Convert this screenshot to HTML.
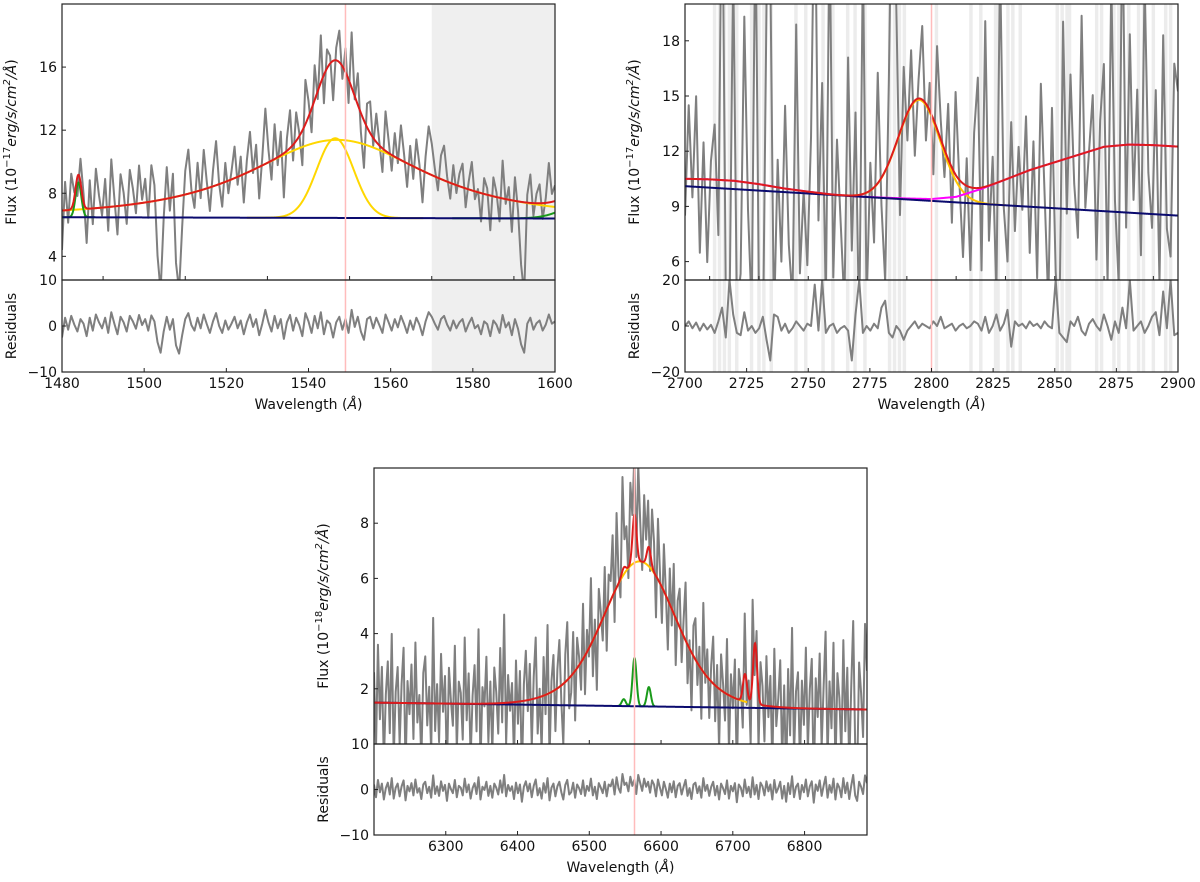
<!DOCTYPE html>
<html><head><meta charset="utf-8">
<style>
html,body{margin:0;padding:0;background:#fff;}
svg{display:block;font-family:"DejaVu Sans","Liberation Sans",sans-serif;}
</style></head>
<body>
<svg id="fig" width="1200" height="882" viewBox="0 0 1200 882" xmlns="http://www.w3.org/2000/svg"></svg>
<script>
// ---------- DATA ----------
// Panel 1 (C IV region)
const p1Range = [1480, 1600];
const p1Resid = [
-2.5,1.8,-0.8,2.2,0.3,-1.2,1.5,0.5,-2.2,1.8,
-1.0,2.5,0.8,-0.5,1.8,-1.5,3.0,0.5,-1.8,2.0,
0.8,-1.2,2.2,1.0,-0.6,2.4,0.2,1.5,-1.0,2.3,
1.0,-3.5,-5.8,-1.2,2.0,-0.8,1.5,-4.2,-6.0,-2.0,
1.5,2.8,0.2,-1.0,1.8,-0.5,2.5,0.4,-1.5,1.0,
2.8,0.0,-1.5,1.2,-0.8,0.5,2.0,-0.5,1.2,-1.8,
0.8,2.5,-0.2,1.5,-2.0,0.5,3.5,0.8,-1.2,2.2,
-0.5,1.5,-2.8,0.8,2.4,-1.0,1.8,0.2,-2.2,2.8,
1.0,-1.5,2.2,-0.5,3.0,-1.8,1.2,0.5,-2.5,0.8,
2.0,-0.8,1.5,-1.5,3.5,-0.2,2.0,-1.2,-3.0,1.5,
2.0,-0.5,1.8,0.2,-1.5,2.5,0.8,-1.0,1.5,-0.3,
2.2,0.5,-1.5,1.2,-0.8,1.8,0.3,-2.0,1.0,3.0,
2.0,0.5,-0.8,1.5,2.2,0.3,-1.0,1.2,-0.5,0.8,
1.5,-1.2,0.5,1.8,-0.5,0.2,-1.8,1.0,0.4,-2.2,
1.2,0.3,-1.5,2.4,-0.3,0.8,-2.0,1.5,-0.6,-4.0,
-5.8,0.5,1.8,-0.8,0.6,1.2,-1.0,0.3,2.5,0.5,
1.0];
const p1Cont = [6.48, 6.40];
const p1Broad = [1547, 4.95, 33];
const p1Narrow = [1546.5, 5.05, 4.5];
const p1Small = [1484, 2.2, 0.7];
const p1Right = [1610, 1.5, 6];
const p1Mask = [1570, 1600];
const p1Ref = 1549;

// Panel 2 (Mg II region)
const p2Range = [2700, 2900];
const p2FluxDev = [
-2,4,-1,4.5,-4,2,-4.5,1,3,-3,
18,-6,-7.5,12,-7,-5,9,-1.5,-7,15,
-7.5,-9,10,12,-7.5,1.5,-4,4.5,-3,-6,
9,-4.5,0,-4,3,18,-1.5,6,-6,15,
-4.5,3,-1.5,-6,7.5,-3,4.5,-7.5,13,-6,
1.5,-3,6,-1.5,-6,4.5,18,7.5,-4.5,3,
-1.5,3,-3,1,4,-2,1.5,-3,4.5,1,
-1.5,3,-3,4.5,0,-4,1.5,-4.5,3,6,
-4.5,9,-3,1.5,-6,12,-1.5,-4.5,3,-3,
1.5,-2,3,-4.5,1.5,-6,4.5,-1.5,-7.5,3,
-6,-9,7.5,-3,4.5,-1.5,-4.5,7.5,-3,0,
3,-6,1.5,4.5,-7.5,9,-3,-7.5,13,-4.5,
6,-3,3,-6,9,-1.5,-4.5,3,-7.5,6,
-4.5,-6,4.5,3];
const p2Resid = [
0,2,-1,1.5,-2,1,-1.5,0.5,-3,2,
8,-5,20,5,-3,-4,6,-2,0,-3,
-1,4,-6,-15,5,4,-2,1,-3,-1,
2,0,-2,1,0,18,-2,20,-3,0,
1,-3,-1,0,-2,-15,5,20,-3,0,
-2,1,-1,8,11,-3,-5,0,-2,-6,
-2,0,2,-1,1,0,-1,2,0,4,
-1,0,1,-2,0,1,-1,0,2,1,
-2,4,-3,0,5,-2,1,7,-9,2,
0,1,-1,2,0,1,-1,2,0,-1,
20,-3,-5,-7,2,0,4,-2,-4,1,
3,0,-2,5,0,-6,2,-3,8,-1,
20,-2,0,2,-3,0,4,6,-4,15,
-1,20,-4,-3];
const p2Cont = [10.1, 8.5];
const p2FeWave = [2700,2710,2720,2730,2740,2750,2760,2770,2780,2790,2800,2810,2820,2830,2840,2850,2860,2870,2880,2890,2900];
const p2FeVals = [0.4,0.45,0.45,0.35,0.2,0.1,0.02,0,0.02,0.05,0.1,0.3,0.8,1.4,2.0,2.5,3.0,3.5,3.7,3.75,3.75];
const p2MgII = [2795, 5.45, 8.5];
const p2Mask = [2712,2714,2716,2718,2721,2727,2730,2732,2735,2745,2749,2756,2760,2766,2769,2773,2783,2785,2787,2789,2802,2816,2820,2826,2827,2831,2833,2836,2851,2853,2855,2856,2867,2869,2874,2876,2880,2884,2886,2890,2895,2897];
const p2Ref = 2800;

// Panel 3 (H-alpha region)
const p3Range = [6200, 6887];
const p3Resid = [
1.1,-1.7,2.1,-0.6,1.3,-2.2,0.3,1.5,-1.1,2.5,
-2.0,0.4,1.3,-1.5,0.7,2.0,-2.4,0.8,-0.4,1.4,
-1.3,2.2,-0.7,0.3,-2.1,1.1,1.7,-0.8,0.6,-1.8,
3.1,-1.0,0.7,-1.4,1.8,-0.3,1.0,-2.5,1.3,0.1,
-0.8,2.1,-1.7,0.8,0.4,-1.3,2.4,-0.6,1.1,-2.0,
0.3,1.4,-1.0,2.7,-2.2,0.6,-0.1,1.7,-1.4,0.8,
-1.8,1.3,0.4,-1.1,2.0,-0.7,3.2,-1.5,1.0,-0.3,
0.7,-2.1,1.5,-0.8,1.1,-2.7,0.6,1.8,-0.4,1.3,
-1.7,0.8,2.2,-1.3,0.3,-2.0,1.4,-0.7,2.5,-2.4,
0.4,1.3,-1.5,0.7,1.7,-0.6,-2.2,1.0,2.1,-1.1,
-0.6,1.5,-1.8,1.1,0.3,-1.0,2.0,-1.4,0.8,-0.3,
2.4,-1.3,0.6,-2.1,1.4,0.4,-0.8,1.7,-1.5,1.1,
0.7,2.2,-1.1,2.7,0.3,-0.7,3.4,1.0,1.5,-0.4,
2.8,0.8,2.1,-1.0,3.2,1.4,-0.3,2.4,0.6,1.7,
-0.7,2.0,1.1,-1.5,2.2,0.4,-1.3,1.7,0.1,-1.8,
1.3,-0.6,1.8,-1.7,0.8,1.4,-1.1,0.6,2.1,-1.4,
0.3,-2.1,1.1,1.5,-0.8,0.7,-1.8,2.5,-0.3,1.0,
-1.4,0.6,1.7,-1.3,0.8,-2.2,1.3,0.3,-1.0,2.0,
-2.0,0.8,-0.4,1.4,-2.8,1.1,0.4,-1.5,2.2,-0.8,
0.6,-1.7,2.7,-1.1,1.0,-2.1,1.5,0.7,-1.3,1.8,
-0.4,1.1,-2.2,2.1,-0.7,0.3,1.7,-2.0,0.8,-2.7,
1.4,-1.0,2.9,-1.7,0.6,1.3,-2.1,1.0,-0.6,2.2,
-1.5,0.7,1.8,-2.9,1.1,-0.3,2.0,-1.4,0.8,2.8,
-1.8,1.0,-0.7,2.4,-2.2,1.3,0.4,-1.7,2.5,-0.8,
1.5,-2.1,0.8,3.2,-1.3,-2.5,1.7,0.6,-1.0,3.1,
1.4];
const p3Cont = [1.5, 1.25];
const p3Broad1 = [6570, 3.6, 45];
const p3Broad2 = [6570, 1.65, 72];
const p3NarrowCenters = [6548, 6563, 6583, 6717, 6731];
const p3NarrowAmps = [0.25, 1.75, 0.7, 1.0, 2.2];
const p3NarrowSigma = 2.8;
const p3Ref = 6563;

// ---------- HELPERS ----------
const NS = "http://www.w3.org/2000/svg";
const svg = document.getElementById('fig');
const FS = 14;
function el(tag, attrs, parent){ const e=document.createElementNS(NS,tag); for(const k in attrs) e.setAttribute(k,attrs[k]); (parent||svg).appendChild(e); return e; }
const gauss=(l,p)=>p[1]*Math.exp(-((l-p[0])**2)/(2*p[2]*p[2]));
const moffat=(l,p)=>p[1]/Math.pow(1+((l-p[0])/p[2])**2,1.5);
const lin=(l,r,c)=>c[0]+(c[1]-c[0])*(l-r[0])/(r[1]-r[0]);
function interp(l,xs,ys){ if(l<=xs[0])return ys[0]; for(let i=1;i<xs.length;i++){ if(l<=xs[i]){const t=(l-xs[i-1])/(xs[i]-xs[i-1]);return ys[i-1]+t*(ys[i]-ys[i-1]);} } return ys[ys.length-1]; }
function grid(r,n){ const a=[]; for(let i=0;i<n;i++) a.push(r[0]+(r[1]-r[0])*i/(n-1)); return a; }
function pathD(xs,ys,sx,sy){ return xs.map((x,i)=>(i?'L':'M')+sx(x).toFixed(2)+','+sy(ys[i]).toFixed(2)).join(''); }

function makeAxes(c){
  c.sx=l=>c.x0+(l-c.xmin)/(c.xmax-c.xmin)*(c.x1-c.x0);
  c.sy=v=>c.yT+(c.ymax-v)/(c.ymax-c.ymin)*(c.yM-c.yT);
  c.sr=v=>c.yM+(c.rmax-v)/(2*c.rmax)*(c.yB-c.yM);
  const defs=el('defs',{});
  el('rect',{x:c.x0,y:c.yT,width:c.x1-c.x0,height:c.yM-c.yT},el('clipPath',{id:c.id+'m'},defs));
  el('rect',{x:c.x0,y:c.yM,width:c.x1-c.x0,height:c.yB-c.yM},el('clipPath',{id:c.id+'r'},defs));
  c.gm=el('g',{'clip-path':'url(#'+c.id+'m)'});
  
  
  c.gr=el('g',{'clip-path':'url(#'+c.id+'r)'});
  
  
}
function finishAxes(c){
  const g=el('g',{});
  
  
  const rl=el('line',{x1:c.sx(c.ref),x2:c.sx(c.ref),y1:c.yT,y2:c.yB,stroke:'#ffbcbc','stroke-width':1.5},g);
  
  
  const fm=el('rect',{x:c.x0,y:c.yT,width:c.x1-c.x0,height:c.yM-c.yT,fill:'none',stroke:'#222','stroke-width':1.2},g);
  
  
  const fr=el('rect',{x:c.x0,y:c.yM,width:c.x1-c.x0,height:c.yB-c.yM,fill:'none',stroke:'#222','stroke-width':1.2},g);
  
  
  c.mainXT.forEach(v=>{ el('line',{x1:c.sx(v),x2:c.sx(v),y1:c.yM,y2:c.yM-4,stroke:'#222'},g); });
  c.xt.forEach(v=>{
    el('line',{x1:c.sx(v),x2:c.sx(v),y1:c.yB,y2:c.yB-4,stroke:'#222'},g);
    const t=el('text',{x:c.sx(v),y:c.yB+16,'text-anchor':'middle','font-size':FS,fill:'#111'},g);
    t.textContent=v;
    
    
  });
  c.yt.forEach(v=>{
    el('line',{x1:c.x0,x2:c.x0+4,y1:c.sy(v),y2:c.sy(v),stroke:'#222'},g);
    const t=el('text',{x:c.x0-5,y:c.sy(v)+5,'text-anchor':'end','font-size':FS,fill:'#111'},g);
    t.textContent=v;
    
    
  });
  [c.rmax,0,-c.rmax].forEach(v=>{
    el('line',{x1:c.x0,x2:c.x0+4,y1:c.sr(v),y2:c.sr(v),stroke:'#222'},g);
    const t=el('text',{x:c.x0-5,y:c.sr(v)+5,'text-anchor':'end','font-size':FS,fill:'#111'},g);
    t.textContent=(v<0?'\u2212'+(-v):v);
    
    
  });
  const xl=el('text',{x:(c.x0+c.x1)/2,y:c.yB+37,'text-anchor':'middle','font-size':FS,fill:'#111'},g);
  xl.innerHTML='Wavelength (<tspan font-style="italic">Å</tspan>)';
  
  
  const ymid=(c.yT+c.yM)/2, lx=c.x0-46;
  const yl=el('text',{x:lx,y:ymid,'text-anchor':'middle','font-size':FS,fill:'#111',transform:'rotate(-90 '+lx+' '+ymid+')'},g);
  yl.innerHTML='Flux (10<tspan dy="-6" font-size="10">\u2212'+c.exp+'</tspan><tspan dy="6" font-style="italic">erg/s/cm</tspan><tspan dy="-6" font-size="10" font-style="italic">2</tspan><tspan dy="6" font-style="italic">/Å</tspan>)';
  
  
  const rmid=(c.yM+c.yB)/2;
  const rlab=el('text',{x:lx,y:rmid,'text-anchor':'middle','font-size':FS,fill:'#111',transform:'rotate(-90 '+lx+' '+rmid+')'},g);
  rlab.textContent='Residuals';
  
  
}
function curve(c,parent,fn,l0,l1,color,name,w){
  const xs=[]; for(let l=l0;l<=l1+1e-9;l+=(c.xmax-c.xmin)/2000) xs.push(l);
  const p=el('path',{d:pathD(xs,xs.map(fn),c.sx,c.sy),fill:'none',stroke:color,'stroke-width':w||2},parent);
  
  
  return p;
}
function dataLine(c,parent,xs,ys,scale,name){
  const p=el('path',{d:pathD(xs,ys,c.sx,scale),fill:'none',stroke:'#7f7f7f','stroke-width':2,'stroke-linejoin':'round'},parent);
  
  
}

// ---------- PANEL 1 ----------
const c1={id:'p1',name:'civ-panel',x0:62,x1:555,yT:4,yM:280,yB:372,xmin:p1Range[0],xmax:p1Range[1],ymin:2.5,ymax:20,rmax:10,
  yt:[4,8,12,16],xt:[1480,1500,1520,1540,1560,1580,1600],mainXT:[1490,1510,1530,1550,1570,1590],ref:p1Ref,exp:'17'};
makeAxes(c1);
const m1=l=>lin(l,p1Range,p1Cont)+moffat(l,p1Broad)+gauss(l,p1Narrow)+gauss(l,p1Small)+gauss(l,p1Right);
{
  const sh=el('rect',{x:c1.sx(p1Mask[0]),y:c1.yT,width:c1.sx(p1Mask[1])-c1.sx(p1Mask[0]),height:c1.yB-c1.yT,fill:'#efefef'});
  
  
  svg.insertBefore(sh,c1.gm);
  const xs=grid(p1Range,p1Resid.length);
  dataLine(c1,c1.gm,xs,xs.map((l,i)=>m1(l)+p1Resid[i]),c1.sy,'observed-flux');
  curve(c1,c1.gm,l=>lin(l,p1Range,p1Cont)+moffat(l,p1Broad),1480,1600,'#ffd700','broad-component');
  curve(c1,c1.gm,l=>lin(l,p1Range,p1Cont)+gauss(l,p1Narrow),1525,1568,'#ffd700','narrow-component');
  curve(c1,c1.gm,l=>lin(l,p1Range,p1Cont)+gauss(l,p1Small),1480,1488,'#1a9a1a','narrow-line-1484');
  curve(c1,c1.gm,l=>lin(l,p1Range,p1Cont)+gauss(l,p1Right),1575,1600,'#1a9a1a','he-ii-wing');
  curve(c1,c1.gm,l=>lin(l,p1Range,p1Cont),1480,1600,'#0a0a6e','continuum');
  curve(c1,c1.gm,m1,1480,1600,'#dd1c1c','total-model');
  dataLine(c1,c1.gr,xs,p1Resid,c1.sr,'residuals');
}
finishAxes(c1);

// ---------- PANEL 2 ----------
const c2={id:'p2',name:'mgii-panel',x0:685,x1:1178,yT:4,yM:280,yB:372,xmin:p2Range[0],xmax:p2Range[1],ymin:5,ymax:20,rmax:20,
  yt:[6,9,12,15,18],xt:[2700,2725,2750,2775,2800,2825,2850,2875,2900],mainXT:[2710,2730,2750,2770,2790,2810,2830,2850,2870,2890],ref:p2Ref,exp:'17'};
makeAxes(c2);
const cont2=l=>lin(l,p2Range,p2Cont);
const fe2=l=>cont2(l)+interp(l,p2FeWave,p2FeVals);
const m2=l=>fe2(l)+gauss(l,p2MgII);
{
  p2Mask.forEach(w=>{
    const r=el('rect',{x:c2.sx(w-0.7),y:c2.yT,width:c2.sx(w+0.7)-c2.sx(w-0.7),height:c2.yB-c2.yT,fill:'#ececec'});
    
    
    svg.insertBefore(r,c2.gm);
  });
  const xs=grid(p2Range,p2FluxDev.length);
  dataLine(c2,c2.gm,xs,xs.map((l,i)=>m2(l)+p2FluxDev[i]),c2.sy,'observed-flux');
  curve(c2,c2.gm,l=>cont2(l)+gauss(l,p2MgII),2762,2830,'#ffc400','mgii-component');
  curve(c2,c2.gm,fe2,2700,2900,'#ff00ff','feii-template');
  curve(c2,c2.gm,cont2,2700,2900,'#0a0a6e','continuum');
  curve(c2,c2.gm,m2,2700,2900,'#dd1c1c','total-model');
  dataLine(c2,c2.gr,xs,p2Resid,c2.sr,'residuals');
}
finishAxes(c2);

// ---------- PANEL 3 ----------
const c3={id:'p3',name:'halpha-panel',x0:374,x1:867,yT:468,yM:744,yB:835,xmin:p3Range[0],xmax:p3Range[1],ymin:0,ymax:10,rmax:10,
  yt:[2,4,6,8],xt:[6300,6400,6500,6600,6700,6800],mainXT:[6300,6400,6500,6600,6700,6800],ref:p3Ref,exp:'18'};
makeAxes(c3);
const cont3=l=>lin(l,p3Range,p3Cont);
const broad3=l=>gauss(l,p3Broad1)+gauss(l,p3Broad2);
const narrow3=(l,a,b)=>{let s=0;for(let i=a;i<b;i++) s+=gauss(l,[p3NarrowCenters[i],p3NarrowAmps[i],p3NarrowSigma]);return s;};
const m3=l=>cont3(l)+broad3(l)+narrow3(l,0,5);
{
  const xs=grid(p3Range,p3Resid.length);
  dataLine(c3,c3.gm,xs,xs.map((l,i)=>m3(l)+p3Resid[i]),c3.sy,'observed-flux');
  curve(c3,c3.gm,l=>cont3(l)+broad3(l),6430,6720,'#ffc400','broad-halpha');
  curve(c3,c3.gm,l=>cont3(l)+narrow3(l,0,3),6540,6592,'#1a9a1a','narrow-halpha-nii');
  curve(c3,c3.gm,cont3,6200,6887,'#0a0a6e','continuum');
  curve(c3,c3.gm,m3,6200,6887,'#dd1c1c','total-model');
  dataLine(c3,c3.gr,xs,p3Resid,c3.sr,'residuals');
}
finishAxes(c3);
</script>
</body></html>
